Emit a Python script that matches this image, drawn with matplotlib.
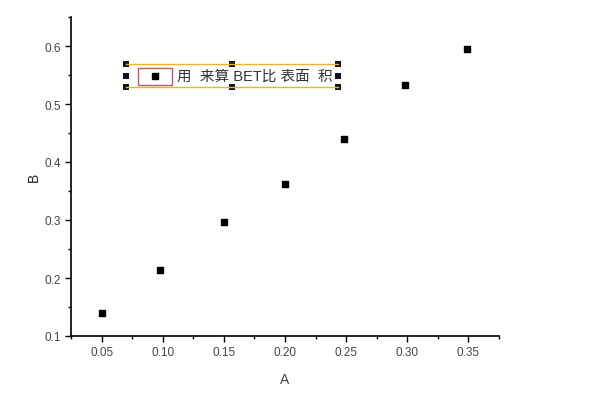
import matplotlib.pyplot as plt
from matplotlib.patches import Rectangle
from matplotlib.lines import Line2D

plt.rcParams['font.family'] = ['Liberation Sans', 'Noto Sans CJK SC', 'DejaVu Sans']

# data
a_vals = [0.05, 0.098, 0.15, 0.20, 0.248, 0.298, 0.349]
b_vals = [0.140, 0.214, 0.297, 0.362, 0.440, 0.533, 0.595]
x_ticks = [0.05, 0.10, 0.15, 0.20, 0.25, 0.30, 0.35]
y_ticks = [0.1, 0.2, 0.3, 0.4, 0.5, 0.6]
legend_text = '用  来算 BET比 表面  积'

W, H = 600, 402
fig = plt.figure(figsize=(6, 4.02), dpi=100)
ax = fig.add_axes([71 / W, 1 - 337 / H, (499 - 71) / W, (337 - 18) / H])

ax.scatter(a_vals, b_vals, marker='s', s=24, color='black', zorder=3)

ax.set_xlim(0.025, 0.375)
ax.set_ylim(0.1, 0.65)
ax.set_xticks(x_ticks)
ax.set_xticklabels([f'{v:.2f}' for v in x_ticks])
ax.set_yticks(y_ticks)
ax.set_yticklabels([f'{v:.1f}' for v in y_ticks])
ax.set_xticks([0.075 + 0.05 * i for i in range(6)] + [0.025, 0.375], minor=True)
ax.set_yticks([0.15, 0.25, 0.35, 0.45, 0.55, 0.65], minor=True)
ax.tick_params(which='major', direction='out', length=4, width=1, labelsize=8.5, labelcolor='#444444')
ax.tick_params(which='minor', direction='out', length=2, width=1)
for s in ['top', 'right']:
    ax.spines[s].set_visible(False)
for s in ['left', 'bottom']:
    ax.spines[s].set_linewidth(1.2)
ax.set_xlabel('A', fontsize=10, color='#444444', labelpad=10)
ax.set_ylabel('B', fontsize=10, color='#222222', labelpad=2)


def px(x, y):
    return x / W, 1 - y / H


# legend-like selection box (Origin style)
tf = fig.transFigure
for yy in (65, 88):
    x0, y0 = px(126, yy)
    x1, _ = px(338, yy)
    fig.add_artist(Line2D([x0, x1], [y0, y0], transform=tf, color='#f0b030', lw=1))
hs = 6
for hx in (126, 232, 338):
    for hy in (65, 77, 88):
        if hx == 232 and hy == 77:
            continue
        bx, by = px(hx - hs / 2, hy + hs / 2)
        fig.add_artist(Rectangle((bx, by), hs / W, hs / H, transform=tf,
                                 facecolor='#111122', edgecolor='none'))
bx, by = px(138, 86)
fig.add_artist(Rectangle((bx, by), 34 / W, 17 / H, transform=tf,
                         facecolor='white', edgecolor='#b06070', lw=1))
mx, my = px(155, 77)
fig.add_artist(Line2D([mx], [my], transform=tf, marker='s', markersize=5,
                      color='black', linestyle='none'))
tx, ty = px(177, 77)
fig.text(tx, ty, legend_text, fontsize=10.5, va='center', ha='left', color='#333333',
         family=['Liberation Sans', 'Noto Sans CJK SC'])

fig.savefig('out.png', dpi=100)
